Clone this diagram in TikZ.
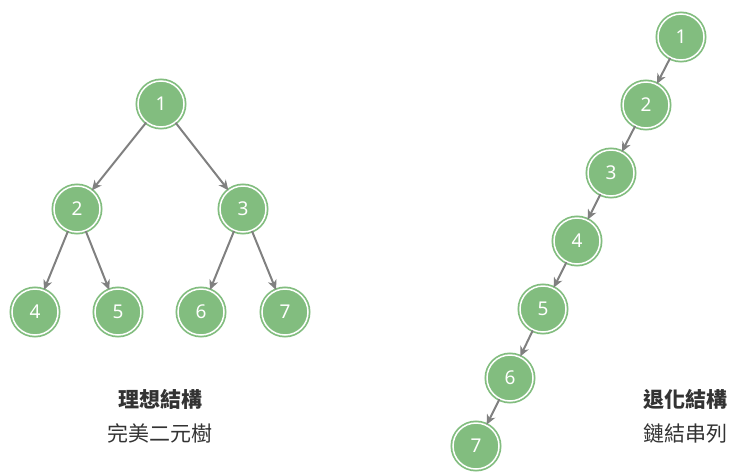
\documentclass[tikz,border=0pt]{standalone}
\usepackage{fontspec}
\setmainfont{Noto Sans}
\newfontfamily\cjk{Noto Sans CJK TC}
\usetikzlibrary{arrows.meta}
\definecolor{NodeGreen}{RGB}{130,189,127}
\definecolor{EdgeGray}{RGB}{128,128,128}
\definecolor{TextGray}{RGB}{51,51,51}

\begin{document}
\begin{tikzpicture}[x=1pt, y=-1pt,
		treenode/.style={circle, minimum size=46pt, inner sep=0pt, fill=NodeGreen, draw=white, line width=1.5pt,
			preaction={draw=NodeGreen, line width=5pt}, text=white, font=\fontsize{19}{19}\selectfont},
		edge/.style={-{Stealth[length=10pt, width=9pt, inset=3pt]}, EdgeGray, line width=2pt, shorten >=0pt},
		caption/.style={text=TextGray, font=\cjk\fontsize{21}{21}\selectfont}]
		\useasboundingbox (0,0) rectangle (729,472);
		
		% 完美二元樹
		\node[treenode] (t1) at (161,104) {1};
		\node[treenode] (t2) at (77,209) {2};
		\node[treenode] (t3) at (243,209) {3};
		\node[treenode] (t4) at (35,312) {4};
		\node[treenode] (t5) at (118,312) {5};
		\node[treenode] (t6) at (201,312) {6};
		\node[treenode] (t7) at (285,312) {7};
		
		\draw[edge] (t1) -- (t2);
		\draw[edge] (t1) -- (t3);
		\draw[edge] (t2) -- (t4);
		\draw[edge] (t2) -- (t5);
		\draw[edge] (t3) -- (t6);
		\draw[edge] (t3) -- (t7);
		
		% 鏈結串列
		\node[treenode] (l1) at (681,37) {1};
		\node[treenode] (l2) at (646,105) {2};
		\node[treenode] (l3) at (611,173) {3};
		\node[treenode] (l4) at (577,241) {4};
		\node[treenode] (l5) at (543,309) {5};
		\node[treenode] (l6) at (510,378) {6};
		\node[treenode] (l7) at (476,446) {7};
		
		\foreach \a/\b in {l1/l2, l2/l3, l3/l4, l4/l5, l5/l6, l6/l7}
			\draw[edge] (\a) -- (\b);
		
		% 標題
		\node[caption, font=\cjk\bfseries\fontsize{21}{21}\selectfont] (c1) at (160,399) {理想結構};
		\node[caption] (c2) at (160,433) {完美二元樹};
		\node[caption, font=\cjk\bfseries\fontsize{21}{21}\selectfont] (c3) at (685,399) {退化結構};
		\node[caption] (c4) at (685,433) {鏈結串列};
	\end{tikzpicture}
\end{document}
